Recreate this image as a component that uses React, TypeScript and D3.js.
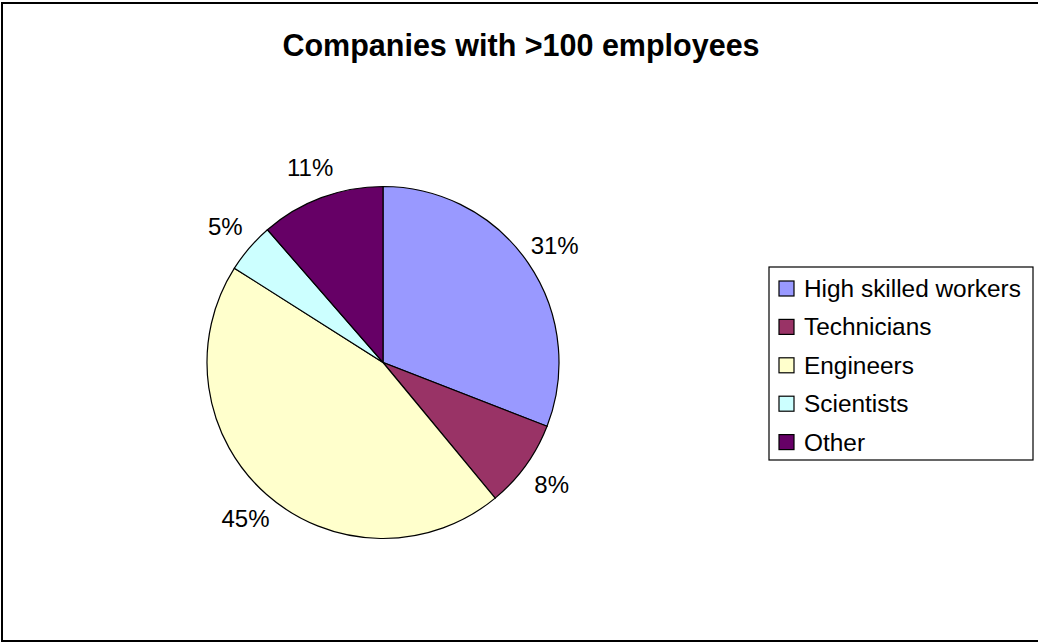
import React from "react";
import * as d3 from "d3";

const categories = ["High skilled workers", "Technicians", "Engineers", "Scientists", "Other"];
const values = [30.9, 8.1, 45.0, 4.6, 11.4];
const colors = ["#9999FF", "#993366", "#FFFFCC", "#CCFFFF", "#660066"];
const title = "Companies with >100 employees";

const W = 1038;
const H = 643;
const cx = 383;
const cy = 362.5;
const R = 176;
const labelR = 208;
const FONT = "Arial, 'Liberation Sans', sans-serif";

export default function App() {
  const total = d3.sum(values);
  const pie = d3.pie<number>().sort(null).value((d) => d)(values);
  const arc = d3.arc<d3.PieArcDatum<number>>().innerRadius(0).outerRadius(R);
  const labelArc = d3.arc<d3.PieArcDatum<number>>().innerRadius(labelR).outerRadius(labelR);
  const fmt = (v: number) => `${Math.round((v / total) * 100)}%`;

  const legendX = 769;
  const legendY = 267;
  const legendW = 264;
  const legendH = 193;
  const rowStep = 38.4;
  const firstRow = legendY + 21.5;

  return (
    <svg
      width={W}
      height={H}
      style={{ position: "absolute", left: 0, top: 0, background: "#fff" }}
      fontFamily={FONT}
    >
      <rect x={0} y={0} width={W} height={H} fill="#fff" />
      <rect x={2} y={3} width={W + 10} height={638} fill="none" stroke="#000" strokeWidth={2} />
      <text x={521} y={56} textAnchor="middle" fontSize={30.5} fontWeight="bold" fill="#000">
        {title}
      </text>
      <g transform={`translate(${cx},${cy})`}>
        {pie.map((d, i) => (
          <path key={i} d={arc(d) || ""} fill={colors[i]} stroke="#000" strokeWidth={1.2} />
        ))}
        {pie.map((d, i) => {
          const [x, y] = labelArc.centroid(d);
          return (
            <text key={"l" + i} x={x} y={y} textAnchor="middle" dominantBaseline="central" fontSize={24} fill="#000">
              {fmt(d.value)}
            </text>
          );
        })}
      </g>
      <rect x={legendX} y={legendY} width={legendW} height={legendH} fill="#fff" stroke="#000" strokeWidth={1.2} />
      {categories.map((c, i) => {
        const yc = firstRow + i * rowStep;
        return (
          <g key={c}>
            <rect x={779} y={yc - 7.5} width={15} height={15} fill={colors[i]} stroke="#000" strokeWidth={1.2} />
            <text x={804} y={yc} dominantBaseline="central" fontSize={24.4} fill="#000">
              {c}
            </text>
          </g>
        );
      })}
    </svg>
  );
}
